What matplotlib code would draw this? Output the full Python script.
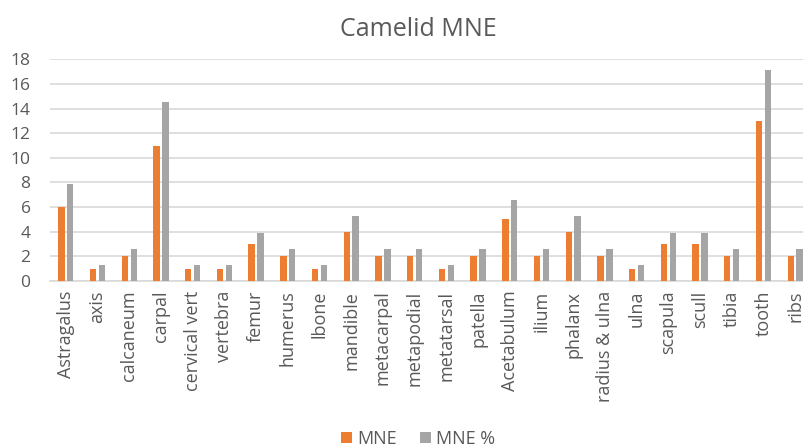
import matplotlib
matplotlib.use("Agg")
import matplotlib.pyplot as plt
import numpy as np

categories = ["Astragalus", "axis", "calcaneum", "carpal", "cervical vert", "vertebra",
              "femur", "humerus", "lbone", "mandible", "metacarpal", "metapodial",
              "metatarsal", "patella", "Acetabulum", "ilium", "phalanx", "radius & ulna",
              "ulna", "scapula", "scull", "tibia", "tooth", "ribs"]
mne = [6, 1, 2, 11, 1, 1, 3, 2, 1, 4, 2, 2, 1, 2, 5, 2, 4, 2, 1, 3, 3, 2, 13, 2]
mne_pct = [7.9, 1.3, 2.6, 14.5, 1.3, 1.3, 3.9, 2.6, 1.3, 5.3, 2.6, 2.6, 1.3, 2.6,
           6.6, 2.6, 5.3, 2.6, 1.3, 3.9, 3.9, 2.6, 17.1, 2.6]
yticks = [0, 2, 4, 6, 8, 10, 12, 14, 16, 18]

plt.rcParams['font.family'] = ['Open Sans', 'DejaVu Sans']
txt = '#595959'

fig = plt.figure(figsize=(8.04, 4.48), dpi=100)
ax = fig.add_axes([50/804, 167/448, 761/804, (388.7-167)/448])

x = np.arange(len(categories))
w = 0.2
ax.bar(x - 0.14, mne, width=w, color='#ED7D31', label='MNE', zorder=3)
ax.bar(x + 0.14, mne_pct, width=w, color='#A5A5A5', label='MNE %', zorder=3)

ax.set_xlim(-0.5, len(categories) - 0.5)
ax.set_ylim(0, 18)
ax.set_yticks(yticks)
ax.set_yticklabels([str(v) for v in yticks], fontsize=12.5, color=txt)
ax.set_xticks(x)
ax.set_xticklabels(categories, rotation=90, fontsize=13, color=txt)
ax.tick_params(axis='both', length=0, pad=7)
ax.tick_params(axis='y', pad=14)
ax.grid(axis='y', color='#D9D9D9', linewidth=1.2, zorder=0)
for s in ['top', 'right', 'left']:
    ax.spines[s].set_visible(False)
ax.spines['bottom'].set_color('#D9D9D9')
ax.spines['bottom'].set_linewidth(1.2)

fig.text(0.52, 1 - 30/448, 'Camelid MNE', ha='center', va='center', fontsize=18, color=txt)

fig.legend(loc='center', bbox_to_anchor=(0.52, 9/448), ncol=2, frameon=False,
           fontsize=13, handlelength=0.6, handleheight=0.6, columnspacing=1.3,
           handletextpad=0.3, labelcolor=txt, borderpad=0)

fig.savefig('out.png', dpi=100)
